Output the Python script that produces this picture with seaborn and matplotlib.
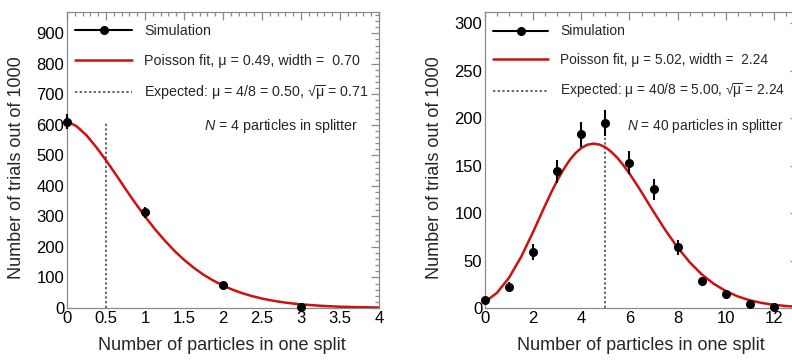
import numpy as np
import pandas as pd
import matplotlib
matplotlib.use('Agg')
import matplotlib.pyplot as plt
from matplotlib.lines import Line2D
from matplotlib.ticker import MultipleLocator, FormatStrFormatter
import seaborn as sns

# ---- data ----
# N = 4 particles in splitter
sim4_x = [0, 1, 2, 3]
sim4_y = [610, 313, 75, 4]
sim4_err = [25, 18, 9, 2]
fit4_x = [0, 0.125, 0.25, 0.375, 0.5, 0.625, 0.75, 0.875, 1, 1.125, 1.25, 1.375,
          1.5, 1.625, 1.75, 1.875, 2, 2.125, 2.25, 2.375, 2.5, 2.625, 2.75, 2.875,
          3, 3.25, 3.5, 3.75, 4]
fit4_y = [613, 595, 566, 527, 484, 438, 390, 344, 300, 259, 222, 188,
          158, 132, 109, 90, 73.5, 59.8, 48.3, 38.8, 31.0, 24.6, 19.5, 15.3,
          12.0, 7.3, 4.3, 2.6, 1.5]
expected4 = 0.5

# N = 40 particles in splitter
sim40_x = [0, 1, 2, 3, 4, 5, 6, 7, 8, 9, 10, 11, 12]
sim40_y = [8, 22, 59, 144, 183, 195, 153, 125, 64, 28, 15, 4, 1]
sim40_err = [3, 5, 8, 12, 13, 14, 12, 11, 8, 5, 4, 2, 1]
fit40_x = [0, 0.5, 1, 1.5, 2, 2.25, 2.5, 2.75, 3, 3.25, 3.5, 3.75, 4, 4.25, 4.5,
           4.75, 5, 5.25, 5.5, 5.75, 6, 6.25, 6.5, 6.75, 7, 7.5, 8, 8.5,
           9, 9.5, 10, 10.5, 11, 11.5, 12, 12.5, 13]
fit40_y = [6.4, 16.1, 32.0, 53.9, 80.3, 94.3, 108.3, 121.8, 134.4, 145.6, 155.4,
           163.0, 168.7, 172.1, 173.3, 172.3, 169.4, 164.5, 158.2, 150.4, 141.7,
           132.1, 122.2, 111.8, 101.6, 81.7, 63.8, 48.3, 35.5, 25.5, 17.9, 12.2,
           8.1, 5.3, 3.4, 2.1, 1.3]
expected40 = 5.0

sqrt_mu = '√' + r'$\overline{\mathregular{μ}}$'
labels4 = ['Simulation',
           'Poisson fit, μ = 0.49, width =  0.70',
           'Expected: μ = 4/8 = 0.50, ' + sqrt_mu + ' = 0.71']
labels40 = ['Simulation',
            'Poisson fit, μ = 5.02, width =  2.24',
            'Expected: μ = 40/8 = 5.00, ' + sqrt_mu + ' = 2.24']

sns.set_theme(style='white')
plt.rcParams['font.family'] = ['Liberation Sans', 'DejaVu Sans']
plt.rcParams['mathtext.fontset'] = 'custom'
plt.rcParams['mathtext.rm'] = 'Liberation Sans'
plt.rcParams['mathtext.it'] = 'Liberation Sans:italic'

fig = plt.figure(figsize=(7.92, 3.61), dpi=100)
ax1 = fig.add_axes([67 / 792, 53 / 361, 312 / 792, 296 / 361])
ax2 = fig.add_axes([485 / 792, 53 / 361, 313 / 792, 296 / 361])

frame_col = '#8a8a8a'
red = '#cc1111'
dot_col = '#666666'


def draw_panel(ax, sx, sy, se, fx, fy, expected, xmax, ymax, labels, ntext,
               xmaj, xmin, ymaj, ymin, fs, ntext_x):
    fit = pd.DataFrame({'x': fx, 'y': fy})
    sns.lineplot(data=fit, x='x', y='y', ax=ax, color=red, lw=1.8, zorder=3)
    ax.vlines(expected, 0, max(sy), colors=dot_col, linestyles=(0, (1.2, 1.2)),
              lw=1.4, zorder=2)
    ax.errorbar(sx, sy, yerr=se, fmt='o', color='black', ms=5.5, elinewidth=1.5,
                capsize=0, zorder=4, clip_on=False)
    ax.set_xlim(0, xmax)
    ax.set_ylim(0, ymax)
    ax.set_xlabel('')
    ax.set_ylabel('')
    ax.xaxis.set_major_locator(MultipleLocator(xmaj))
    ax.xaxis.set_minor_locator(MultipleLocator(xmin))
    ax.yaxis.set_major_locator(MultipleLocator(ymaj))
    ax.yaxis.set_minor_locator(MultipleLocator(ymin))
    ax.xaxis.set_major_formatter(FormatStrFormatter('%g'))
    ax.tick_params(which='both', direction='in', top=True, right=True,
                   color=frame_col, width=0.9, labelsize=12, pad=2,
                   labelcolor='black')
    ax.tick_params(which='major', length=6)
    ax.tick_params(which='minor', length=3)
    for sp in ax.spines.values():
        sp.set_color(frame_col)
        sp.set_linewidth(0.9)
    handles = [Line2D([], [], color='black', lw=1.5, marker='o', ms=5.5),
               Line2D([], [], color=red, lw=1.8),
               Line2D([], [], color=dot_col, lw=1.4, linestyle=(0, (1.2, 1.2)))]
    ax.legend(handles, labels, loc='upper left', bbox_to_anchor=(0.026, 0.958),
              frameon=False, fontsize=fs, handlelength=4.0, handletextpad=0.85,
              labelspacing=1.08, borderpad=0, borderaxespad=0, numpoints=1)
    ax.text(ntext_x, 0.615, ntext, transform=ax.transAxes, ha='right', va='center',
            fontsize=fs)


draw_panel(ax1, sim4_x, sim4_y, sim4_err, fit4_x, fit4_y, expected4, 4, 970,
           labels4, r'$\mathit{N}$ = 4 particles in splitter', 0.5, 0.1, 100, 20,
           10.3, 0.935)
draw_panel(ax2, sim40_x, sim40_y, sim40_err, fit40_x, fit40_y, expected40, 13, 312,
           labels40, r'$\mathit{N}$ = 40 particles in splitter', 2, 0.5, 50, 10,
           9.9, 0.955)

for xc in (222, 641):
    fig.text(xc / 792, 1 - 346 / 361, 'Number of particles in one split',
             ha='center', va='center', fontsize=13)
for xc in (17, 435):
    fig.text(xc / 792, 1 - 168 / 361, 'Number of trials out of 1000',
             ha='center', va='center', rotation=90, fontsize=13)

fig.savefig('out.png', dpi=100)
